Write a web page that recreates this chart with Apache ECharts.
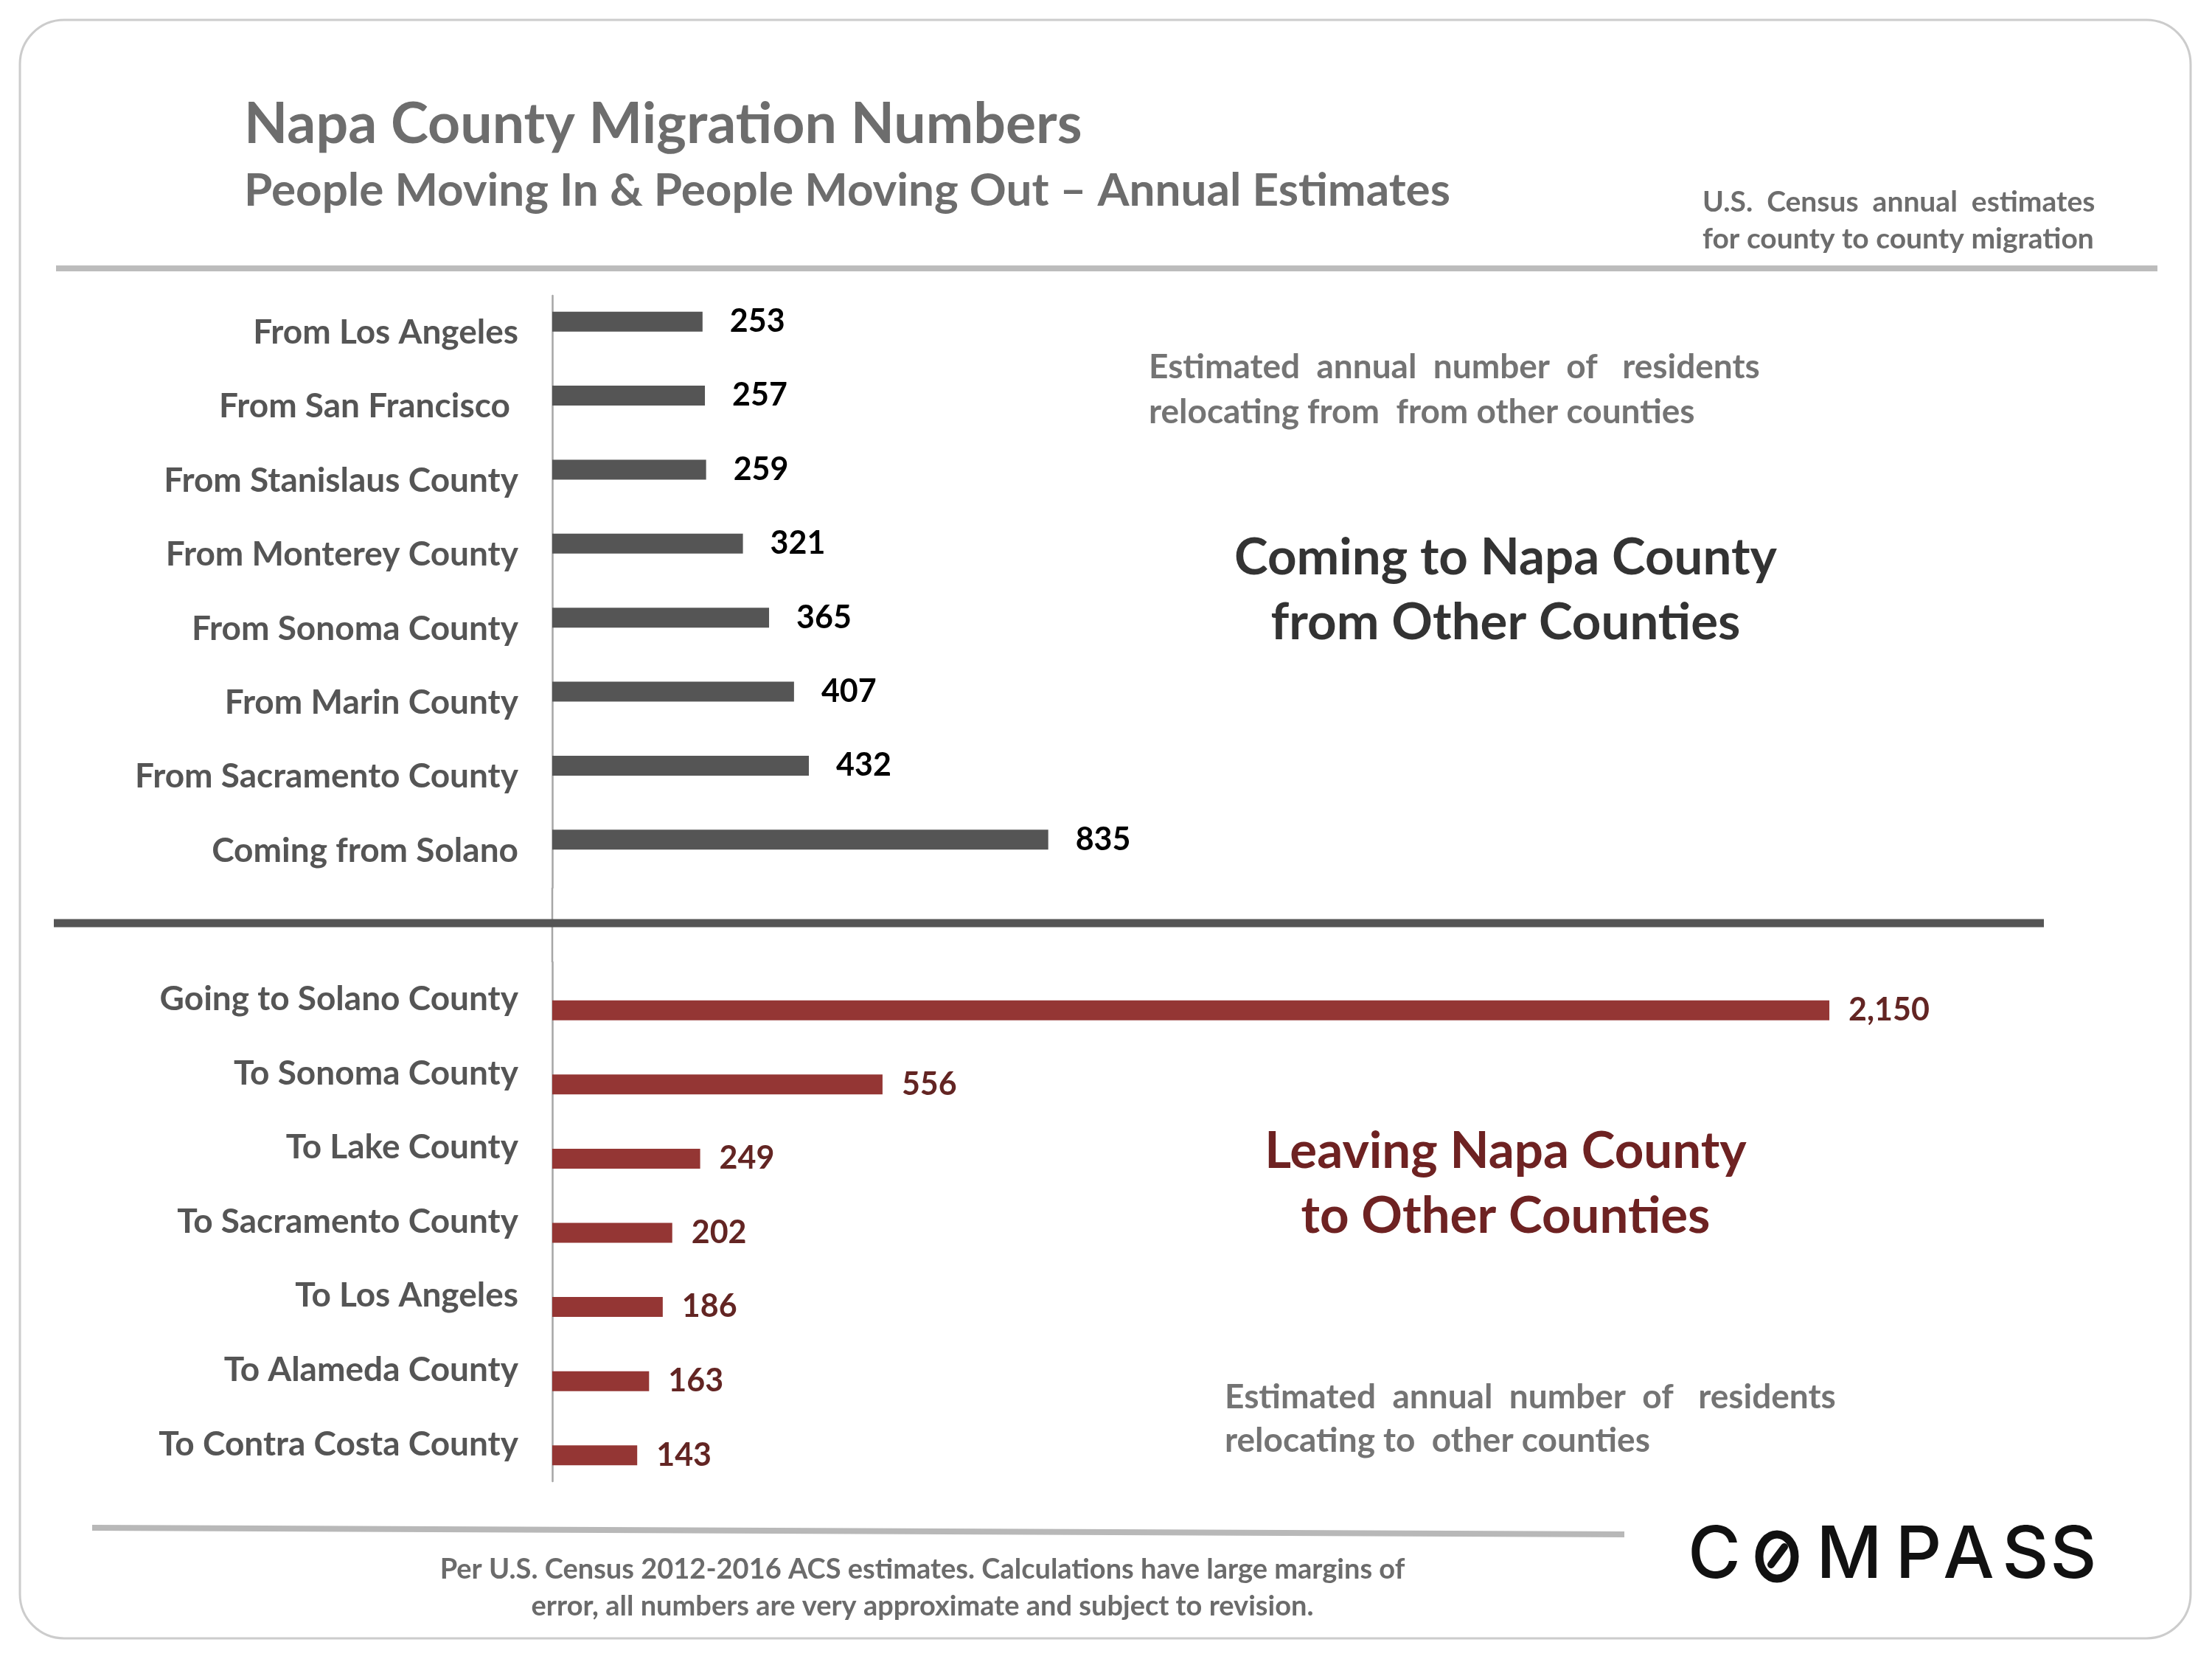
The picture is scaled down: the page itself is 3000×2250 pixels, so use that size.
<!DOCTYPE html>
<html>
<head>
<meta charset="utf-8">
<script src="https://cdn.jsdelivr.net/npm/echarts@6/dist/echarts.min.js"></script>
<style>
  html, body { margin: 0; padding: 0; background: #fff; }
  #chart { width: 3000px; height: 2250px; }
</style>
</head>
<body>
<div id="chart"></div>
<script>
// people moving in (top block)
const inCategories = ['From Los Angeles', 'From San Francisco ', 'From Stanislaus County', 'From Monterey County',
  'From Sonoma County', 'From Marin County', 'From Sacramento County', 'Coming from Solano'];
const inValues = [253, 257, 259, 321, 365, 407, 432, 835];

// people moving out (bottom block)
const outCategories = ['Going to Solano County', 'To Sonoma County', 'To Lake County', 'To Sacramento County',
  'To Los Angeles', 'To Alameda County', 'To Contra Costa County'];
const outValues = [2150, 556, 249, 202, 186, 163, 143];

const font = 'Lato';
const axisGray = '#a6a6a6';

const myChart = echarts.init(document.getElementById('chart'), null, {renderer: 'canvas'});

function catAxis(gridIndex, data) {
  return {
    type: 'category',
    gridIndex: gridIndex,
    data: data,
    inverse: true,
    axisLine: {lineStyle: {color: axisGray, width: 2.5}},
    axisTick: {length: 15, lineStyle: {color: axisGray, width: 2.5}},
    axisLabel: {
      margin: 46,
      fontFamily: font,
      fontWeight: 'bold',
      fontSize: 46,
      color: '#555555'
    }
  };
}

function valAxis(gridIndex) {
  return {
    type: 'value',
    gridIndex: gridIndex,
    min: 0,
    max: 2500,
    show: false
  };
}

// empty companion series, only used to push the real bar off the band centre
function spacer(idx, n) {
  return {
    type: 'bar',
    xAxisIndex: idx,
    yAxisIndex: idx,
    barWidth: 27,
    barGap: '11%',
    silent: true,
    data: new Array(n).fill(null)
  };
}

function txt(x, y, text, size, color, align) {
  return {
    type: 'text',
    x: x,
    y: y,
    style: {
      text: text,
      fontFamily: font,
      fontWeight: 'bold',
      fontSize: size,
      fill: color,
      textAlign: align || 'left',
      textVerticalAlign: 'middle'
    }
  };
}

function logoLetter(x, ch) {
  return {
    type: 'text',
    x: x,
    y: 2111,
    style: {
      text: ch,
      fontFamily: 'Inter',
      fontWeight: 500,
      fontSize: 98,
      fill: '#111',
      textAlign: 'center',
      textVerticalAlign: 'middle'
    }
  };
}

const option = {
  backgroundColor: '#ffffff',
  animation: false,
  grid: [
    {left: 749, top: 401, width: 2014, height: 803},
    {left: 749, top: 1305, width: 2014, height: 704}
  ],
  xAxis: [valAxis(0), valAxis(1)],
  yAxis: [catAxis(0, inCategories), catAxis(1, outCategories)],
  series: [
    {
      name: 'Moving in',
      type: 'bar',
      xAxisIndex: 0,
      yAxisIndex: 0,
      barWidth: 27,
      barGap: '11%',
      data: inValues,
      itemStyle: {color: '#555555'},
      label: {
        show: true,
        position: 'right',
        distance: 37,
        fontFamily: font,
        fontWeight: 'bold',
        fontSize: 43,
        color: '#000000'
      }
    },
    spacer(0, inValues.length),
    spacer(1, outValues.length),
    {
      name: 'Moving out',
      type: 'bar',
      xAxisIndex: 1,
      yAxisIndex: 1,
      barWidth: 27,
      barGap: '11%',
      data: outValues,
      itemStyle: {color: '#943634'},
      label: {
        show: true,
        position: 'right',
        distance: 26,
        fontFamily: font,
        fontWeight: 'bold',
        fontSize: 43,
        color: '#632523',
        formatter: (p) => p.value.toLocaleString('en-US')
      }
    }
  ],
  graphic: [
    // card outline
    {type: 'rect', shape: {x: 27, y: 27, width: 2944, height: 2195, r: 60},
      style: {fill: 'none', stroke: '#cccccc', lineWidth: 3}, z: -1},
    // header rule
    {type: 'line', shape: {x1: 76, y1: 364, x2: 2926, y2: 364},
      style: {stroke: '#bcbcbc', lineWidth: 8}},
    // separator between the two blocks
    {type: 'line', shape: {x1: 73, y1: 1252, x2: 2772, y2: 1252},
      style: {stroke: '#555555', lineWidth: 11}, z: 10},
    // axis continues through the gap
    {type: 'line', shape: {x1: 749, y1: 1204, x2: 749, y2: 1305},
      style: {stroke: axisGray, lineWidth: 2.5}},
    // footer rule (slightly tilted in the original)
    {type: 'line', shape: {x1: 125, y1: 2072, x2: 2203, y2: 2081},
      style: {stroke: '#b8b8b8', lineWidth: 8}},

    txt(331, 169, 'Napa County Migration Numbers', 77, '#6d6d6d'),
    txt(331, 259, 'People Moving In & People Moving Out \u2013 Annual Estimates', 62, '#6d6d6d'),
    txt(2309, 274, 'U.S.  Census  annual  estimates', 39, '#6d6d6d'),
    txt(2309, 324, 'for county to county migration', 39, '#6d6d6d'),

    txt(1558, 498, 'Estimated  annual  number  of   residents', 46, '#747474'),
    txt(1558, 559, 'relocating from  from other counties', 46, '#747474'),
    txt(2042, 757, 'Coming to Napa County', 69, '#333333', 'center'),
    txt(2042, 845, 'from Other Counties', 69, '#333333', 'center'),

    txt(2042, 1562, 'Leaving Napa County', 69, '#6e2222', 'center'),
    txt(2042, 1650, 'to Other Counties', 69, '#6e2222', 'center'),
    txt(1661, 1895, 'Estimated  annual  number  of   residents', 46, '#747474'),
    txt(1661, 1954, 'relocating to  other counties', 46, '#747474'),

    txt(1251, 2129, 'Per U.S. Census 2012-2016 ACS estimates. Calculations have large margins of', 38, '#6b6b6b', 'center'),
    txt(1251, 2179, 'error, all numbers are very approximate and subject to revision.', 38, '#6b6b6b', 'center'),

    // COMPASS logo
    logoLetter(2325, 'C'),
    {type: 'ellipse', shape: {cx: 2410, cy: 2111, rx: 24, ry: 30},
      style: {fill: 'none', stroke: '#111', lineWidth: 11}},
    {type: 'line', shape: {x1: 2402, y1: 2122, x2: 2420, y2: 2098},
      style: {stroke: '#111', lineWidth: 10, lineCap: 'round'}},
    logoLetter(2508, 'M'),
    logoLetter(2602, 'P'),
    logoLetter(2670, 'A'),
    logoLetter(2747, 'S'),
    logoLetter(2812, 'S')
  ]
};

myChart.setOption(option);
</script>
</body>
</html>
